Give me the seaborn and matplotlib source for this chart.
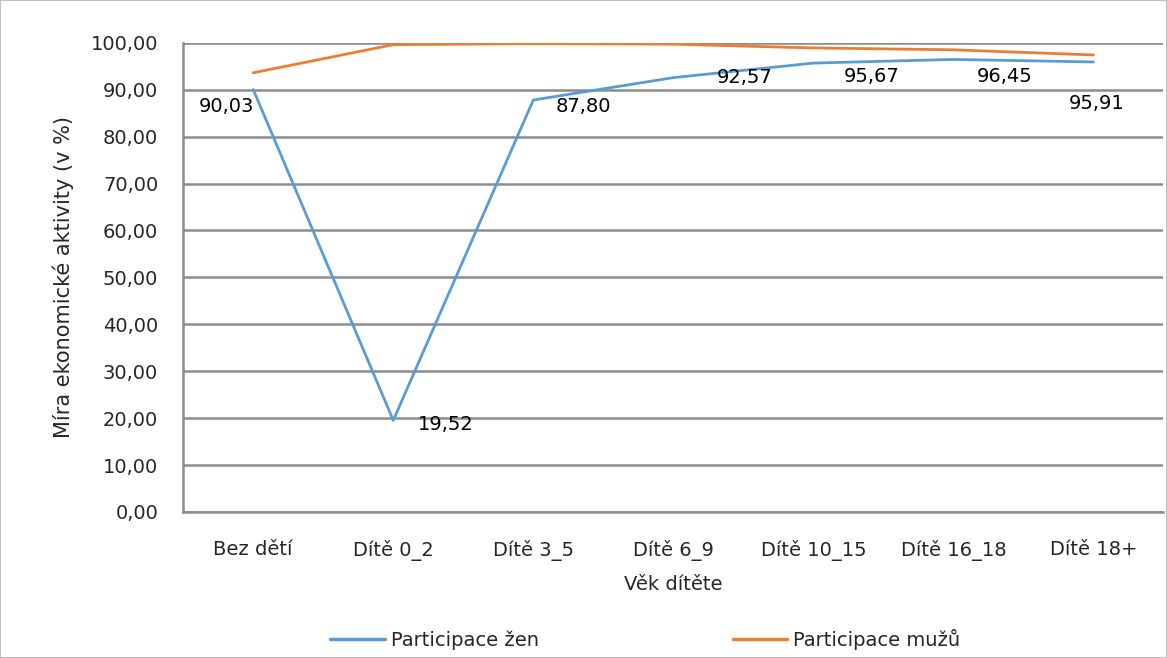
import pandas as pd
import matplotlib.pyplot as plt
import seaborn as sns
from matplotlib.ticker import FuncFormatter, FixedLocator

# Data
categories = ['Bez dětí', 'Dítě 0_2', 'Dítě 3_5', 'Dítě 6_9', 'Dítě 10_15', 'Dítě 16_18', 'Dítě 18+']
zeny = [90.03, 19.52, 87.80, 92.57, 95.67, 96.45, 95.91]
muzi = [93.6, 99.6, 99.8, 99.7, 98.9, 98.5, 97.4]

df = pd.DataFrame({
    'Věk dítěte': categories * 2,
    'value': zeny + muzi,
    'serie': ['Participace žen'] * len(categories) + ['Participace mužů'] * len(categories),
})

sns.set_style('white')
plt.rcParams['font.family'] = ['DejaVu Sans']

fig = plt.figure(figsize=(11.67, 6.58), dpi=100)
ax = fig.add_axes([0.157, 0.222, 0.84, 0.713])

sns.lineplot(data=df, x='Věk dítěte', y='value', hue='serie', sort=False,
             palette={'Participace žen': '#5B9BD5', 'Participace mužů': '#ED7D31'},
             linewidth=2, ax=ax, legend=False)

# Data labels for women series (offsets in points)
offsets = [(-19, -12), (38, -3), (36, -5), (51, 0), (42, -10), (37, -12), (2, -30)]
for i, (v, off) in enumerate(zip(zeny, offsets)):
    ax.annotate(f"{v:.2f}".replace('.', ','), (i, v), xytext=off, textcoords='offset points',
                ha='center', va='center', fontsize=14, color='black')

ax.set_ylim(0, 100)
ax.set_xlim(-0.5, len(categories) - 0.5)
ax.set_yticks(range(0, 101, 10))
ax.yaxis.set_major_formatter(FuncFormatter(lambda v, p: f"{v:.2f}".replace('.', ',')))
ax.grid(axis='y', color='#8c8c8c', linewidth=1.8)
ax.set_axisbelow(True)

# x ticks at category boundaries, labels at centres
ax.set_xticks(range(len(categories)))
ax.set_xticklabels(categories, fontsize=14)
ax.xaxis.set_minor_locator(FixedLocator([i - 0.5 for i in range(len(categories) + 1)]))
ax.tick_params(axis='x', which='major', length=0, pad=20)
ax.tick_params(axis='x', which='minor', length=7, color='#8c8c8c', width=1.5, direction='out')
ax.tick_params(axis='y', length=8, color='#8c8c8c', width=1.5, direction='out', labelsize=14, pad=10)

for s in ['top', 'right']:
    ax.spines[s].set_visible(False)
for s in ['left', 'bottom']:
    ax.spines[s].set_color('#8c8c8c')
    ax.spines[s].set_linewidth(1.8)

ax.set_xlabel('Věk dítěte', fontsize=14, labelpad=10)
ax.set_ylabel('Míra ekonomické aktivity (v %)', fontsize=15, labelpad=12)

handles = [plt.Line2D([], [], color='#5B9BD5', linewidth=2.5),
           plt.Line2D([], [], color='#ED7D31', linewidth=2.5)]
fig.legend(handles, ['Participace žen', 'Participace mužů'], loc='center',
           bbox_to_anchor=(0.553, 0.028), ncol=2, frameon=False, fontsize=14,
           handlelength=2.8, handletextpad=0.3, columnspacing=10)

fig.patches.append(plt.Rectangle((0, 0), 1, 1, transform=fig.transFigure, fill=False,
                                 edgecolor='#bfbfbf', linewidth=1.5))

plt.savefig('out.png', dpi=100)
